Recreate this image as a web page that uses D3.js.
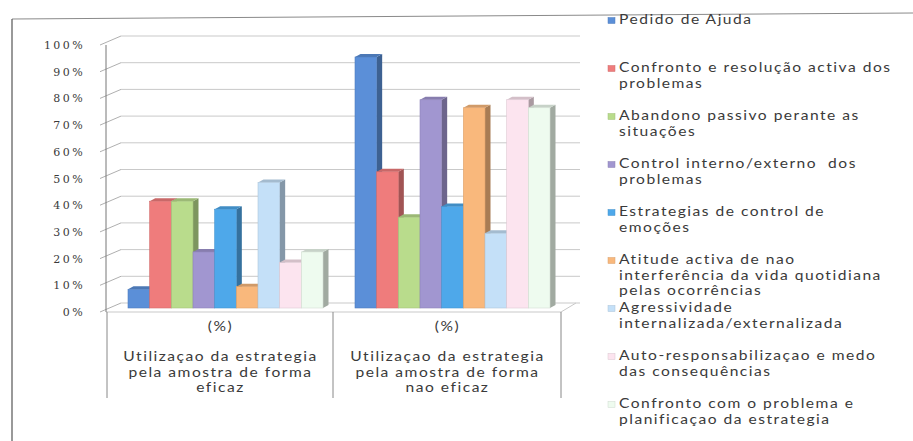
<!DOCTYPE html>
<html>
<head>
<meta charset="utf-8">
<script src="https://cdn.jsdelivr.net/npm/d3@7"></script>
<style>
  html, body { margin: 0; padding: 0; background: #fff; }
  svg { display: block; }
  svg text { white-space: pre; }
</style>
</head>
<body>
<div id="chart"></div>
<script>
// Outer categories (multi-level axis) and inner level label
const categories = [
  ["Utilizaçao da estrategia", "pela amostra de forma", "eficaz"],
  ["Utilizaçao da estrategia", "pela amostra de forma", "nao eficaz"]
];
const innerLabel = "(%)";

// Series names, split into the lines shown in the legend
const seriesNames = [
  ["Pedido de Ajuda"],
  ["Confronto e resolução activa dos", "problemas"],
  ["Abandono passivo perante as", "situações"],
  ["Control interno/externo  dos", "problemas"],
  ["Estrategias de control de", "emoções"],
  ["Atitude activa de nao", "interferência da vida quotidiana", "pelas ocorrências"],
  ["Agressividade", "internalizada/externalizada"],
  ["Auto-responsabilizaçao e medo", "das consequências"],
  ["Confronto com o problema e", "planificaçao da estrategia"]
];

// Percentages for each series: [eficaz, nao eficaz]
const pedidoAjuda      = [7, 94];
const confrontoActiva  = [40, 51];
const abandonoPassivo  = [40, 34];
const controlInterno   = [21, 78];
const controlEmocoes   = [37, 38];
const atitudeActiva    = [8, 75];
const agressividade    = [47, 28];
const autoResponsab    = [17, 78];
const confrontoPlanif  = [21, 75];

const seriesValues = [
  pedidoAjuda, confrontoActiva, abandonoPassivo, controlInterno,
  controlEmocoes, atitudeActiva, agressividade, autoResponsab, confrontoPlanif
];

const seriesColors = [
  "#5b8fd8", "#ef7c7c", "#b9dc8c", "#a196d0", "#4ea8ea",
  "#f9b87c", "#c4e0f8", "#fce4ef", "#eefbef"
];

const yTicks = [0, 10, 20, 30, 40, 50, 60, 70, 80, 90, 100];

const W = 913, H = 441;
const svg = d3.select("#chart").append("svg")
  .attr("width", W).attr("height", H)
  .style("background", "#fff");

// Frame lines
svg.append("line").attr("x1", 12).attr("y1", 19).attr("x2", 913).attr("y2", 13)
  .attr("stroke", "#8a8a8a").attr("stroke-width", 1);
svg.append("line").attr("x1", 12).attr("y1", 19).attr("x2", 12).attr("y2", 441)
  .attr("stroke", "#555").attr("stroke-width", 1.2);

// Scales
const y = d3.scaleLinear().domain([0, 100]).range([312, 45]);
const x0 = d3.scaleBand().domain(d3.range(categories.length)).range([107, 561]).padding(0);
const x1 = d3.scaleBand().domain(d3.range(seriesValues.length)).range([21, 216]).padding(0);

// 3D offsets: back wall depth and bar depth
const wallDx = 15, wallDy = -9;
const barPlaneDy = -4;
const barDx = 5.5, barDy = -3;

const plot = svg.append("g");

// Back wall gridlines
plot.selectAll(".grid").data(yTicks).join("line")
  .attr("x1", 106 + wallDx).attr("x2", 580)
  .attr("y1", d => y(d) + wallDy).attr("y2", d => y(d) + wallDy)
  .attr("stroke", "#c9c9c9").attr("stroke-width", 1);

// Side wall depth lines at each tick
plot.selectAll(".depth").data(yTicks).join("line")
  .attr("x1", 100).attr("y1", d => y(d))
  .attr("x2", 106 + wallDx).attr("y2", d => y(d) + wallDy)
  .attr("stroke", "#9a9a9a").attr("stroke-width", 0.8);

// Floor edges
plot.append("line").attr("x1", 106).attr("y1", y(0)).attr("x2", 561).attr("y2", y(0))
  .attr("stroke", "#c9c9c9");
plot.append("line").attr("x1", 561).attr("y1", y(0)).attr("x2", 561 + wallDx).attr("y2", y(0) + wallDy)
  .attr("stroke", "#c9c9c9");

// Value axis
const yAxis = d3.axisLeft(y).tickValues(yTicks).tickFormat(d => d + "%").tickSize(0).tickPadding(16);
const axisG = svg.append("g").attr("transform", "translate(101,0)").call(yAxis);
axisG.select(".domain").remove();
axisG.selectAll("text")
  .attr("font-family", "DejaVu Serif")
  .attr("font-size", 11)
  .attr("letter-spacing", "2.4px")
  .attr("fill", "#3a3a3a");
svg.append("line").attr("x1", 106).attr("x2", 106).attr("y1", y(100)).attr("y2", y(0))
  .attr("stroke", "#777").attr("stroke-width", 1);

// Bars as 3D boxes: front, right side, top
const barsG = svg.append("g");
categories.forEach((cat, ci) => {
  seriesValues.forEach((vals, si) => {
    const v = vals[ci];
    const c = d3.color(seriesColors[si]);
    const xl = x0(ci) + x1(si);
    const xr = xl + x1.bandwidth();
    const yb = y(0) + barPlaneDy;
    const yt = y(v) + barPlaneDy;
    const g = barsG.append("g");
    g.append("path")
      .attr("d", `M${xr},${yb}L${xr + barDx},${yb + barDy}L${xr + barDx},${yt + barDy}L${xr},${yt}Z`)
      .attr("fill", c.darker(1.1).formatHex());
    g.append("path")
      .attr("d", `M${xl},${yt}L${xl + barDx},${yt + barDy}L${xr + barDx},${yt + barDy}L${xr},${yt}Z`)
      .attr("fill", c.darker(0.5).formatHex());
    g.append("rect")
      .attr("x", xl).attr("y", yt)
      .attr("width", x1.bandwidth()).attr("height", yb - yt)
      .attr("fill", c.formatHex())
      .attr("stroke", c.darker(0.35).formatHex()).attr("stroke-width", 0.6);
  });
});

// Category axis (two levels) with dividers
const catG = svg.append("g");
[107, 333, 561].forEach(xp => {
  catG.append("line").attr("x1", xp).attr("x2", xp).attr("y1", y(0)).attr("y2", 398)
    .attr("stroke", "#888").attr("stroke-width", 1);
});

function stretchedText(sel, x, yPos, str, anchor) {
  const t = sel.append("text")
    .attr("transform", `translate(${x},${yPos}) scale(1.2,1)`)
    .attr("text-anchor", anchor)
    .attr("dominant-baseline", "middle")
    .attr("font-family", "Lato")
    .attr("font-size", 13)
    .attr("letter-spacing", "1.25px")
    .attr("fill", "#3a3a3a")
    .text(str);
  return t;
}

categories.forEach((lines, ci) => {
  const cx = x0(ci) + x0.bandwidth() / 2;
  stretchedText(catG, cx, 328, innerLabel, "middle");
  lines.forEach((ln, li) => stretchedText(catG, cx, 358 + li * 15.6, ln, "middle"));
});

// Legend
const legG = svg.append("g");
seriesNames.forEach((lines, i) => {
  const ly = 20.5 + i * 48;
  legG.append("rect").attr("x", 608).attr("y", ly - 3).attr("width", 7).attr("height", 6)
    .attr("fill", seriesColors[i])
    .attr("stroke", d3.color(seriesColors[i]).darker(0.4).formatHex()).attr("stroke-width", 0.5);
  lines.forEach((ln, li) => stretchedText(legG, 619, ly + li * 15.8, ln, "start"));
});
</script>
</body>
</html>
